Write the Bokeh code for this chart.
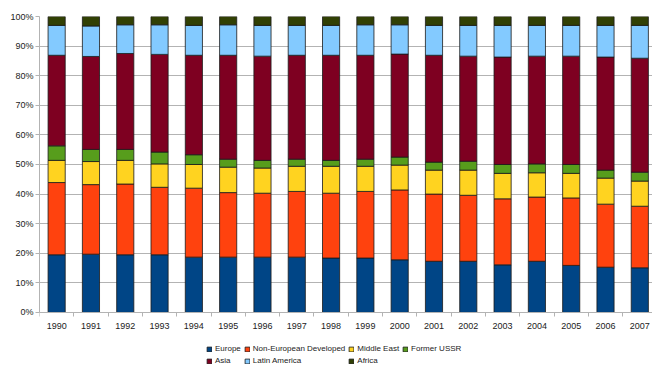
from bokeh.plotting import figure
from bokeh.models import FixedTicker, Legend, LegendItem, Range1d, ColumnDataSource
from bokeh.embed import file_html
from bokeh.resources import INLINE

years = [str(y) for y in range(1990, 2008)]
europe = [19.5, 19.7, 19.5, 19.5, 18.7, 18.7, 18.7, 18.7, 18.4, 18.4, 17.8, 17.3, 17.3, 16.1, 17.3, 15.9, 15.3, 15.1]
non_eur_dev = [24.4, 23.5, 23.9, 22.8, 23.3, 21.8, 21.6, 22.2, 21.9, 22.5, 23.6, 22.7, 22.3, 22.3, 21.7, 22.8, 21.3, 20.8]
middle_east = [7.5, 7.8, 8.0, 7.9, 8.0, 8.6, 8.5, 8.5, 9.1, 8.5, 8.4, 8.1, 8.5, 8.6, 8.2, 8.3, 8.8, 8.5]
former_ussr = [4.9, 4.1, 3.7, 4.0, 3.3, 2.7, 2.6, 2.4, 2.0, 2.4, 2.7, 2.7, 3.0, 3.0, 3.0, 3.0, 2.7, 3.0]
asia = [30.6, 31.4, 32.4, 33.0, 33.6, 35.1, 35.2, 35.1, 35.5, 35.1, 34.8, 36.1, 35.5, 36.3, 36.4, 36.6, 38.2, 38.5]
latin_america = [10.1, 10.3, 9.7, 10.0, 10.1, 10.3, 10.4, 10.1, 10.1, 10.3, 9.9, 10.1, 10.4, 10.7, 10.4, 10.4, 10.7, 11.1]
africa = [3.0, 3.2, 2.8, 2.8, 3.0, 2.8, 3.0, 3.0, 3.0, 2.8, 2.8, 3.0, 3.0, 3.0, 3.0, 3.0, 3.0, 3.0]

series_names = ["Europe", "Non-European Developed", "Middle East", "Former USSR",
                "Asia", "Latin America", "Africa"]
series_values = [europe, non_eur_dev, middle_east, former_ussr, asia, latin_america, africa]
colors = ["#004586", "#ff420e", "#ffd320", "#579d1c", "#7e0021", "#83caff", "#314004"]
y_ticks = list(range(0, 101, 10))

keys = ["s%d" % i for i in range(len(series_names))]
data = {"x": list(range(len(years)))}
for k, v in zip(keys, series_values):
    data[k] = v
source = ColumnDataSource(data)

FONT = "Liberation Sans"
TXT = "#222222"

# frame spans down to the window bottom; 0..100 maps to y=312..16 px
p = figure(width=652, height=366, output_backend="svg", toolbar_location=None,
           x_range=Range1d(-0.5, 17.37), y_range=Range1d(-18.25, 100),
           min_border_left=39, min_border_right=0, min_border_top=16, min_border_bottom=0)
p.outline_line_color = None

renderers = p.vbar_stack(keys, x="x", width=0.5, source=source, color=colors,
                         line_color="#1a1a1a", line_width=0.8)

p.xgrid.grid_line_color = None
p.ygrid.grid_line_color = "#b3b3b3"
p.ygrid.ticker = FixedTicker(ticks=y_ticks)

xa = p.xaxis[0]
xa.fixed_location = 0
xa.ticker = FixedTicker(ticks=list(range(len(years))),
                        minor_ticks=[i - 0.5 for i in range(len(years) + 1)])
xa.major_label_overrides = {i: y for i, y in enumerate(years)}
xa.major_tick_out = 0
xa.major_tick_in = 0
xa.minor_tick_out = 4
xa.minor_tick_in = 0
xa.minor_tick_line_color = "#b3b3b3"
xa.axis_line_color = "#b3b3b3"
xa.major_label_standoff = 7
xa.major_label_text_font = FONT
xa.major_label_text_font_size = "9px"
xa.major_label_text_color = TXT

ya = p.yaxis[0]
ya.ticker = FixedTicker(ticks=y_ticks, minor_ticks=[])
ya.bounds = (0, 100)
ya.major_label_overrides = {t: "%d%%" % t for t in y_ticks}
ya.major_tick_out = 4
ya.major_tick_in = 0
ya.major_tick_line_color = "#b3b3b3"
ya.axis_line_color = "#b3b3b3"
ya.major_label_standoff = 2
ya.major_label_text_font = FONT
ya.major_label_text_font_size = "9px"
ya.major_label_text_color = TXT

items = [LegendItem(label=n, renderers=[r]) for n, r in zip(series_names, renderers)]
legend = Legend(items=items, location=(167, 1), orientation="horizontal", ncols=4,
                glyph_width=6, glyph_height=6, label_height=9, label_standoff=3,
                spacing=3, padding=0, margin=0,
                border_line_alpha=0, background_fill_alpha=0,
                label_text_font=FONT, label_text_font_size="8px", label_text_color=TXT)
p.add_layout(legend, "center")

open("out.html", "w").write(file_html(p, INLINE))
